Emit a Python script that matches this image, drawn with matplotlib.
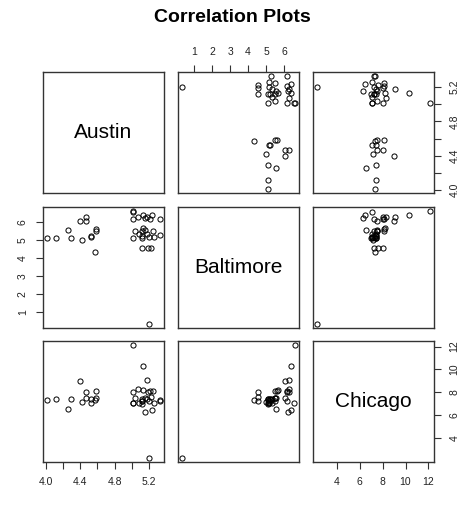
#matriz de dispersão no estilo do pairs() do R.
import matplotlib.pyplot as plt

#nomes das variáveis (diagonal).
nomes = ["Austin", "Baltimore", "Chicago"]

#valores, cada índice é uma observação.
austin = [
    4.02, 4.12, 4.26, 4.29, 4.40, 4.42, 4.47, 4.47, 4.53, 4.53, 4.58, 4.58, 4.57,
    5.01, 5.01, 5.01, 5.07, 5.13, 5.15, 5.23, 5.21, 5.18, 5.32,
    5.03, 5.08, 5.01, 5.12, 5.13, 5.15, 5.12, 5.12, 5.18, 5.20, 5.24, 5.26, 5.32,
    5.12, 5.19, 5.22, 5.20,
]
baltimore = [
    5.11, 5.11, 5.54, 5.11, 6.04, 4.98, 6.26, 6.04, 5.20, 5.15, 5.61, 5.52, 4.31,
    6.59, 6.55, 6.19, 6.31, 6.41, 6.22, 6.41, 6.19, 6.26, 6.19,
    5.48, 5.33, 5.11, 5.48, 5.67, 5.57, 5.20, 5.11, 5.33, 5.15, 5.48, 5.15, 5.30,
    4.56, 4.56, 4.58, 0.35,
]
chicago = [
    7.34, 7.43, 6.53, 7.43, 9.00, 7.14, 8.07, 7.49, 7.43, 7.05, 8.16, 7.49, 7.34,
    12.09, 7.10, 8.07, 8.27, 10.30, 6.33, 6.47, 8.10, 9.09, 7.30,
    7.49, 7.10, 7.10, 7.30, 8.20, 7.50, 7.40, 7.00, 7.40, 7.30, 8.10, 7.05, 7.35,
    7.30, 8.08, 7.60, 2.34,
]

#marcas dos eixos e rótulos que aparecem.
ticks_austin = [4.0, 4.2, 4.4, 4.6, 4.8, 5.0, 5.2]
rotulos_austin = ["4.0", "", "4.4", "", "4.8", "", "5.2"]
ticks_baltimore = [1, 2, 3, 4, 5, 6]
rotulos_baltimore = ["1", "2", "3", "4", "5", "6"]
ticks_chicago = [4, 6, 8, 10, 12]
rotulos_chicago = ["4", "6", "8", "10", "12"]

dados = [austin, baltimore, chicago]
ticks = [ticks_austin, ticks_baltimore, ticks_chicago]
rotulos = [rotulos_austin, rotulos_baltimore, rotulos_chicago]

plt.rcParams['font.family'] = ['Liberation Sans', 'DejaVu Sans']

W, H = 465, 508
fig = plt.figure(figsize=(W / 100, H / 100), dpi=100)

#posições dos painéis em pixels.
lefts = [43, 178, 313]
tops = [72, 207, 341]
tam = 121

#limites com 4% de folga, como no R.
def limites(v):
    lo, hi = min(v), max(v)
    d = (hi - lo) * 0.04
    return lo - d, hi + d

lims = [limites(v) for v in dados]

for i in range(3):
    for j in range(3):
        ax = fig.add_axes([lefts[j] / W, 1 - (tops[i] + tam) / H, tam / W, tam / H])
        ax.set_xlim(lims[j])
        ax.set_ylim(lims[i])
        for s in ax.spines.values():
            s.set_color('#333333')
            s.set_linewidth(1)
        ax.tick_params(direction='out', length=5, width=0.8, color='#333333',
                       labelsize=7.5, pad=6, labelcolor='#222222')
        ax.set_xticks([])
        ax.set_yticks([])
        if i == j:
            ax.text(0.5, 0.5, nomes[i], transform=ax.transAxes, ha='center',
                    va='center', fontsize=15)
        else:
            ax.plot(dados[j], dados[i], 'o', mfc='none', mec='black',
                    ms=3.7, mew=0.7)

        #eixos alternados como no pairs().
        if i == 0 and j == 1:
            ax.xaxis.set_ticks_position('top')
            ax.set_xticks(ticks[j], rotulos[j])
        if i == 2 and j in (0, 2):
            ax.set_xticks(ticks[j], rotulos[j])
        if j == 0 and i == 1:
            ax.set_yticks(ticks[i], rotulos[i])
            for t in ax.get_yticklabels():
                t.set_rotation(90)
                t.set_va('center')
        if j == 2 and i in (0, 2):
            ax.yaxis.set_ticks_position('right')
            ax.set_yticks(ticks[i], rotulos[i])
            for t in ax.get_yticklabels():
                t.set_rotation(90)
                t.set_va('center')

fig.text(0.5, 1 - 17 / H, "Correlation Plots", ha='center', va='center',
         fontsize=14, fontweight='bold')

fig.savefig("out.png", dpi=100)
